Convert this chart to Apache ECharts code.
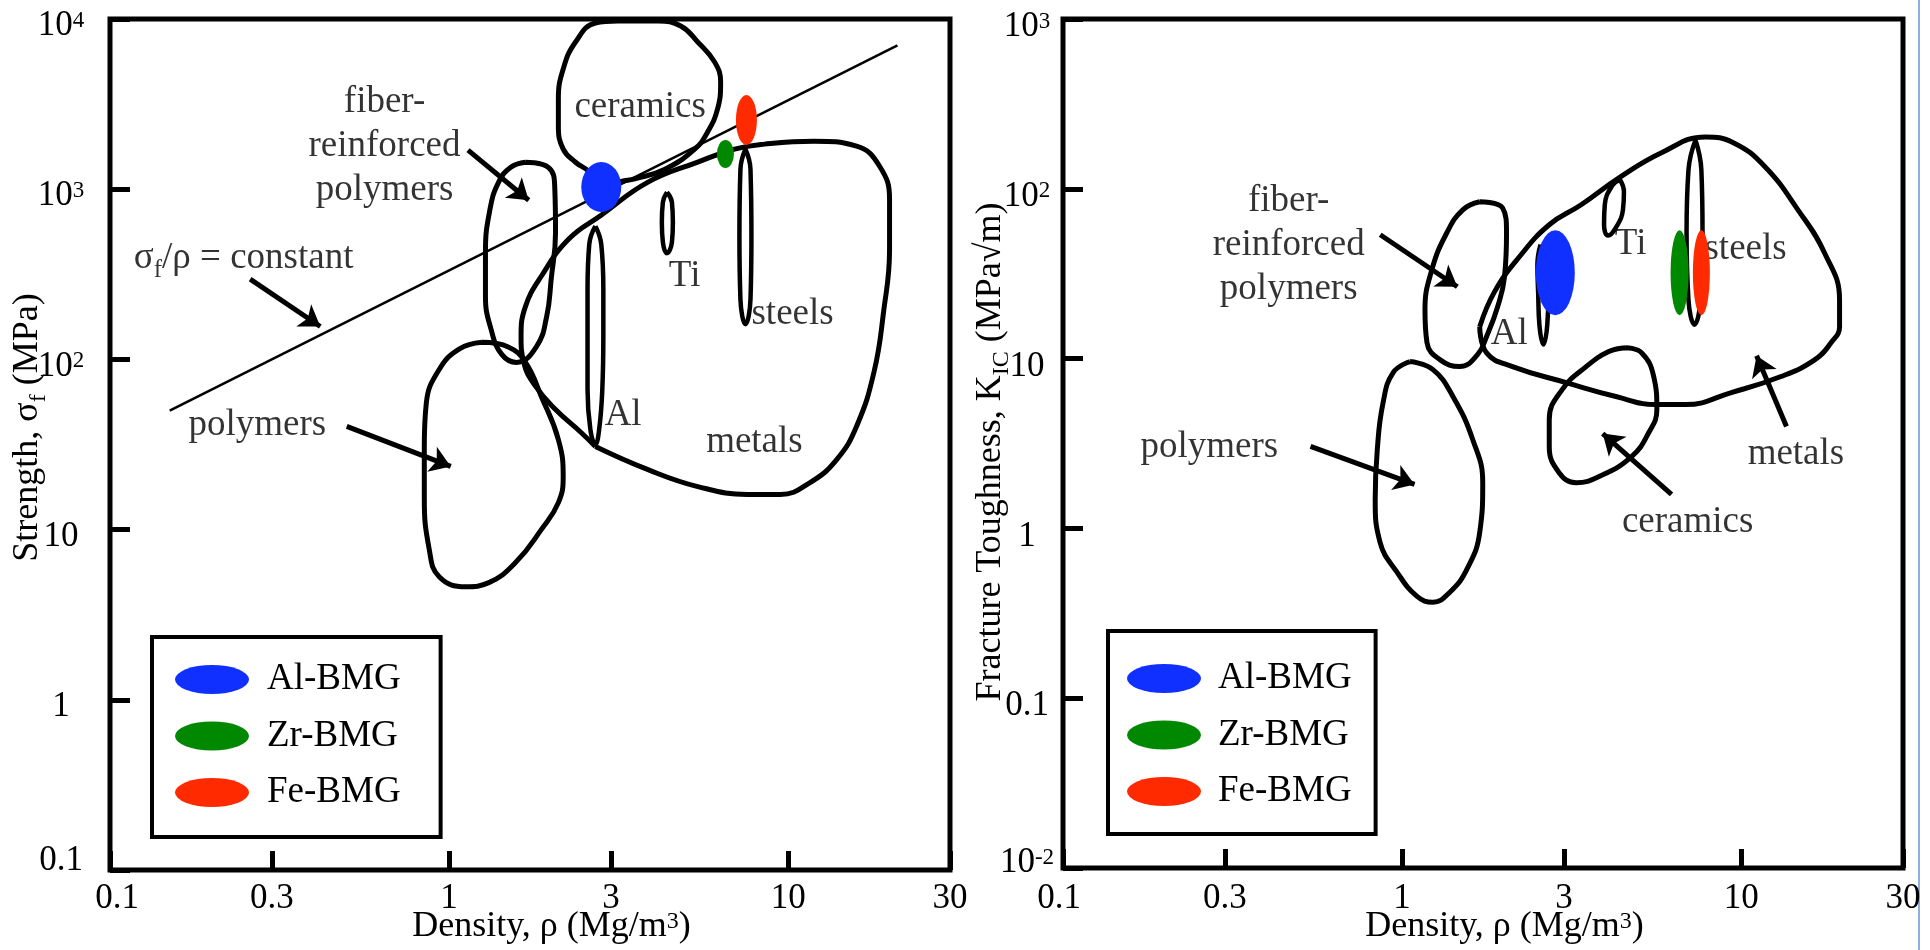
<!DOCTYPE html>
<html>
<head>
<meta charset="utf-8">
<title>Strength and fracture toughness vs density</title>
<script src="https://cdn.jsdelivr.net/npm/echarts@6.0.0/dist/echarts.min.js"></script>
<style>
  html, body { margin: 0; padding: 0; background: #fff; }
  #main { width: 1930px; height: 950px; }
</style>
</head>
<body>
<div id="main"></div>
<script>
// density axis, both panels (Mg/m^3)
var densityTicks = [0.1, 0.3, 1, 3, 10, 30];
var densityTickLabels = ['0.1', '0.3', '1', '3', '10', '30'];
// strength axis (MPa)
var strengthTicks = [0.1, 1, 10, 100, 1000, 10000];
var strengthTickLabels = ['0.1', '1', '10', '10^2', '10^3', '10^4'];
// fracture toughness axis (MPa√m)
var toughnessTicks = [0.01, 0.1, 1, 10, 100, 1000];
var toughnessTickLabels = ['10^-2', '0.1', '1', '10', '10^2', '10^3'];

var bmgNames = ['Al-BMG', 'Zr-BMG', 'Fe-BMG'];
var bmgStrength = [[2.81, 1030], [6.53, 1610], [7.53, 2550]];
var bmgToughness = [[2.83, 32], [6.58, 32], [7.63, 32]];

// material envelopes, strength panel: [density, strength]
var sCeramics = [[2.81, 1030], [3.22, 1110], [3.53, 1150], [4.33, 1310], [5.30, 1720], [5.78, 2160], [6.19, 2960], [6.32, 4260], [6.07, 5580], [5.41, 7330], [4.82, 9100], [4.13, 9730], [3.15, 9730], [2.70, 9470], [2.36, 7330], [2.17, 5080], [2.10, 3380], [2.10, 2350], [2.17, 1720], [2.36, 1440], [2.57, 1280]];
var sMetals = [[2.70, 30.8], [3.86, 22.5], [5.41, 17.9], [7.59, 16.1], [9.48, 16.1], [11.6, 18.9], [13.9, 25.8], [15.9, 40.4], [17.9, 84], [19.1, 189], [19.9, 444], [19.9, 873], [18.6, 1365], [15.9, 1790], [11.9, 1916], [8.51, 1840], [6.95, 1720], [5.41, 1442], [3.86, 1100], [2.80, 700], [2.25, 508], [1.87, 308], [1.68, 205], [1.63, 137], [1.66, 96], [1.80, 69.4], [2.06, 50.8], [2.45, 37.2]];
var sAl = [[2.70, 606], [2.81, 475], [2.85, 258], [2.85, 138], [2.83, 66.6], [2.77, 38.7], [2.70, 31.6], [2.61, 38.7], [2.56, 66.6], [2.56, 138], [2.56, 258], [2.59, 475]];
var sTi = [[4.39, 960], [4.54, 839], [4.57, 640], [4.54, 488], [4.39, 421], [4.27, 488], [4.24, 640], [4.27, 839]];
var sSteels = [[7.48, 1720], [7.74, 1310], [7.79, 529], [7.74, 225], [7.48, 161], [7.23, 225], [7.18, 529], [7.23, 1310]];
var sFiber = [[1.68, 1442], [1.96, 1347], [2.05, 1000], [2.06, 558], [2.00, 296], [1.94, 179], [1.81, 119], [1.58, 96], [1.43, 107], [1.33, 150], [1.28, 235], [1.28, 426], [1.32, 763], [1.40, 1100], [1.52, 1347]];
var sPolymers = [[1.25, 126], [1.50, 118], [1.68, 96], [1.87, 60.6], [2.10, 33.8], [2.17, 20.5], [2.10, 14.4], [1.87, 10], [1.57, 6.40], [1.31, 4.88], [1.12, 4.62], [0.935, 5.29], [0.874, 7.63], [0.845, 15.6], [0.845, 30.8], [0.857, 55.8], [0.935, 87.3], [1.07, 115]];
var constantLine = [[0.15, 50], [21, 7000]];

// material envelopes, toughness panel: [density, toughness]
var kFiber = [[1.694, 83.9], [1.977, 77.3], [2.032, 55.1], [2.005, 30.4], [1.913, 20.2], [1.775, 13.5], [1.671, 10.6], [1.479, 8.97], [1.292, 9.86], [1.184, 12.4], [1.168, 19.4], [1.224, 33.4], [1.355, 55.1], [1.510, 75.2]];
var kMetals = [[1.694, 15.4], [1.874, 24.8], [2.218, 39.8], [2.716, 61.4], [3.373, 80.5], [4.36, 116], [5.82, 163], [7.84, 202], [9.48, 187], [11.75, 135], [14.7, 75.2], [17.6, 42.0], [19.5, 22.2], [19.5, 15.4], [18.4, 12.4], [16.5, 9.86], [13.1, 7.84], [9.35, 6.31], [6.85, 5.36], [5.60, 5.36], [4.27, 5.98], [3.048, 7.22], [2.116, 8.97], [1.775, 10.8]];
var kAl = [[2.56, 46.9], [2.66, 35.7], [2.70, 23.8], [2.68, 15.85], [2.61, 12.1], [2.54, 15.85], [2.52, 23.8], [2.506, 35.7]];
var kTi = [[4.39, 113], [4.51, 96], [4.48, 75.2], [4.27, 59], [4.05, 53], [3.94, 61.4], [3.96, 80.5], [4.16, 104]];
var kSteels = [[7.33, 194], [7.63, 129], [7.69, 55.8], [7.59, 22.2], [7.28, 15.85], [6.99, 22.2], [6.90, 55.8], [6.99, 129]];
var kCeramics = [[4.57, 11.6], [5.09, 10.8], [5.52, 7.84], [5.64, 5.01], [5.34, 3.67], [4.75, 2.65], [3.81, 2.02], [3.26, 1.86], [2.904, 2.13], [2.716, 3.04], [2.716, 4.38], [2.965, 6.57], [3.49, 8.97], [4.07, 11.0]];
var kPolymers = [[1.055, 9.6], [1.233, 8.61], [1.412, 5.98], [1.615, 3.34], [1.729, 1.86], [1.694, 0.947], [1.552, 0.574], [1.383, 0.421], [1.233, 0.367], [1.107, 0.398], [0.967, 0.551], [0.861, 0.828], [0.833, 1.48], [0.845, 2.92], [0.879, 5.51], [0.941, 8.28]];

// annotations: [text, density, value]; arrows: [from, to]
var strengthNotes = [
  ['fiber-\nreinforced\npolymers', 0.645, 1778],
  ['σ_f/ρ = constant', 0.1175, 395],
  ['polymers', 0.272, 41.2],
  ['ceramics', 3.66, 3015],
  ['Ti', 4.95, 306],
  ['steels', 10.3, 185],
  ['Al', 3.26, 47.2],
  ['metals', 7.95, 32.6]
];
var strengthArrows = [
  [[1.137, 1695], [1.717, 861]],
  [[0.259, 296], [0.417, 156]],
  [[0.499, 40.4], [1.011, 23.5]]
];
var toughnessNotes = [
  ['fiber-\nreinforced\npolymers', 0.463, 46.5],
  ['polymers', 0.270, 3.01],
  ['ceramics', 6.95, 1.09],
  ['metals', 14.5, 2.74],
  ['Al', 2.07, 13.9],
  ['Ti', 4.72, 47.2],
  ['steels', 10.3, 44.1]
];
var toughnessArrows = [
  [[0.862, 53.6], [1.455, 26.5]],
  [[0.537, 3.04], [1.088, 1.815]],
  [[6.23, 1.585], [3.905, 3.62]],
  [[13.6, 3.98], [11.1, 10.4]]
];

// ---------- styling ----------
var FONT = '"Liberation Serif", "Times New Roman", serif';
var bmgColors = ['#1030ff', '#008800', '#ff2a00'];
var bmgSizeS = [[40, 50], [17, 28], [21, 50]];
var bmgSizeK = [[39, 85], [18, 85], [17, 85]];

// '^x' -> superscript, '_x' -> subscript, rest -> plain token
function toRich(s) {
  return s.split(/([_^][^\s\/)]+)/).map(function (p) {
    if (!p) return '';
    if (p.charAt(0) === '^') return '{sup|' + p.slice(1) + '}';
    if (p.charAt(0) === '_') return '{sub|' + p.slice(1) + '}';
    return '{t|' + p + '}';
  }).join('');
}

function tickFormatter(ticks, labels) {
  return function (v) {
    for (var i = 0; i < ticks.length; i++) {
      if (Math.abs(Math.log10(v / ticks[i])) < 0.01) {
        var r = toRich(labels[i]);
        return i === 0 ? r.replace(/\{(t|sup)\|/g, '{$1Lo|') : r;
      }
    }
    return '';
  };
}

function tok(size, pad, extra) {
  var o = { fontFamily: FONT, fontSize: size, lineHeight: 36, color: '#000', verticalAlign: 'middle', padding: pad };
  for (var k in extra) o[k] = extra[k];
  return o;
}

var nameRich = {
  t: tok(36, [0, 0, 0, 0]),
  sup: tok(24, [0, 0, 11, 0]),
  sub: tok(24, [22, 0, 0, 0])
};

function xAxisFor(gi, loPad, margin, nameGap) {
  return {
    type: 'log', logBase: 10, gridIndex: gi, min: 0.1, max: 30,
    axisLine: { show: false },
    splitLine: { show: false },
    minorTick: { show: false },
    axisTick: { inside: true, length: 19, customValues: densityTicks, lineStyle: { color: '#000', width: 5 } },
    axisLabel: {
      customValues: densityTicks, margin: margin, hideOverlap: false,
      formatter: tickFormatter(densityTicks, densityTickLabels),
      rich: { t: tok(35, [0, 0, 0, 0]), tLo: tok(35, loPad) }
    },
    name: toRich('Density, ρ (Mg/m^3)'),
    nameLocation: 'middle', nameGap: nameGap, nameMoveOverlap: false,
    nameTextStyle: { fontFamily: FONT, fontSize: 36, color: '#000', padding: [0, 0, 0, 43], rich: nameRich }
  };
}

function yAxisFor(gi, ticks, labels, range, shift, loShift, margin, name, nameGap, namePad) {
  return {
    type: 'log', logBase: 10, gridIndex: gi, min: range[0], max: range[1],
    axisLine: { show: false },
    splitLine: { show: false },
    minorTick: { show: false },
    axisTick: { inside: true, length: 20, customValues: ticks, lineStyle: { color: '#000', width: 5 } },
    axisLabel: {
      customValues: ticks, margin: margin, align: 'center', hideOverlap: false,
      formatter: tickFormatter(ticks, labels),
      rich: {
        t: tok(35, [2 * shift, 0, 0, 0]),
        sup: tok(23, [Math.max(0, 2 * shift - 11), 0, Math.max(0, 11 - 2 * shift), 0]),
        tLo: tok(35, [0, 0, 2 * loShift, 0]),
        supLo: tok(23, [0, 0, 2 * loShift + 11, 0])
      }
    },
    name: toRich(name),
    nameLocation: 'middle', nameGap: nameGap, nameMoveOverlap: false,
    nameTextStyle: { fontFamily: FONT, fontSize: 36, color: '#000', padding: namePad, rich: nameRich }
  };
}

function envelope(pts, gi, w) {
  return {
    type: 'line', xAxisIndex: gi, yAxisIndex: gi, silent: true, z: 3,
    data: pts.concat([pts[0]]), smooth: 0.45, symbol: 'none',
    lineStyle: { color: '#000', width: w || 5 }
  };
}

function notes(list, arrows, gi) {
  return {
    type: 'scatter', xAxisIndex: gi, yAxisIndex: gi, silent: true, z: 2,
    symbolSize: 1, itemStyle: { color: 'rgba(0,0,0,0)' },
    data: list.map(function (n) {
      var item = { name: n[0], value: [n[1], n[2]], label: { formatter: toRich(n[0]) } };
      if (n[0].indexOf('constant') >= 0) item.label.align = 'left';
      return item;
    }),
    label: {
      show: true, position: 'inside', color: '#000',
      rich: {
        t: { fontFamily: FONT, fontSize: 37, lineHeight: 44, color: '#000', verticalAlign: 'middle' },
        sub: { fontFamily: FONT, fontSize: 25, lineHeight: 44, color: '#000', verticalAlign: 'middle', padding: [26, 0, 0, 0] }
      }
    },
    markLine: {
      silent: true, animation: false, symbol: ['none', 'arrow'], symbolSize: 20,
      label: { show: false }, emphasis: { disabled: true },
      lineStyle: { color: '#000', width: 5, type: 'solid' },
      data: arrows.map(function (a) { return [{ coord: a[0] }, { coord: a[1] }]; })
    }
  };
}

function bmgSeries(values, sizes, gi) {
  return values.map(function (v, i) {
    return {
      type: 'scatter', name: bmgNames[i], xAxisIndex: gi, yAxisIndex: gi, z: 5, silent: true,
      data: [v], symbol: 'circle', symbolSize: sizes[i],
      itemStyle: { color: bmgColors[i], opacity: 1 }
    };
  });
}

var ELLIPSE = 'path://M0,10A10,10,0,1,1,20,10A10,10,0,1,1,0,10Z';
function legendAt(left, top, pad, textPad) {
  return {
    left: left, top: top, orient: 'vertical', data: bmgNames, selectedMode: false,
    icon: ELLIPSE, symbolKeepAspect: false, itemWidth: 74, itemHeight: 29, itemGap: 19.5,
    padding: pad, borderColor: '#000', borderWidth: 4, backgroundColor: '#fff',
    textStyle: { fontFamily: FONT, fontSize: 37, color: '#000', padding: [0, 0, 0, textPad] }
  };
}

var series = [
  envelope(constantLine, 0, 2.5),
  envelope(sCeramics, 0), envelope(sMetals, 0), envelope(sAl, 0, 4.5), envelope(sTi, 0, 4.5),
  envelope(sSteels, 0, 4.5), envelope(sFiber, 0), envelope(sPolymers, 0),
  notes(strengthNotes, strengthArrows, 0),
  envelope(kFiber, 1), envelope(kMetals, 1), envelope(kAl, 1, 4.5), envelope(kTi, 1, 4.5),
  envelope(kSteels, 1, 4.5), envelope(kCeramics, 1), envelope(kPolymers, 1),
  notes(toughnessNotes, toughnessArrows, 1)
];
series[0].data = constantLine; // open guide line, not a loop
series = series.concat(bmgSeries(bmgStrength, bmgSizeS, 0), bmgSeries(bmgToughness, bmgSizeK, 1));

var chart = echarts.init(document.getElementById('main'), null, { renderer: 'canvas' });
chart.setOption({
  animation: false,
  backgroundColor: '#fff',
  textStyle: { fontFamily: FONT },
  grid: [
    { left: 110, top: 19, width: 840, height: 851, show: true, borderColor: '#000', borderWidth: 5, outerBoundsMode: 'none' },
    { left: 1063, top: 19, width: 840, height: 849, show: true, borderColor: '#000', borderWidth: 5, outerBoundsMode: 'none' }
  ],
  xAxis: [
    xAxisFor(0, [0, 0, 0, 14], 11, 39),
    xAxisFor(1, [0, 8, 0, 0], 13, 41)
  ],
  yAxis: [
    yAxisFor(0, strengthTicks, strengthTickLabels, [0.1, 10000], 7, 9, 49,
      'Strength, σ_f (MPa)', 64, [0, 0, 0, 34]),
    yAxisFor(1, toughnessTicks, toughnessTickLabels, [0.01, 1000], 8, 5, 36,
      'Fracture Toughness, K_IC (MPa√m)', 54, [0, 17, 0, 0])
  ],
  legend: [
    legendAt(152, 637, [24, 40, 26, 23], 13),
    legendAt(1108, 631, [29, 24, 24, 19], 12)
  ],
  graphic: [
    { type: 'rect', shape: { x: 1918, y: 0, width: 2, height: 950 }, style: { fill: '#8fb0dc' }, silent: true }
  ],
  series: series
});
</script>
</body>
</html>
